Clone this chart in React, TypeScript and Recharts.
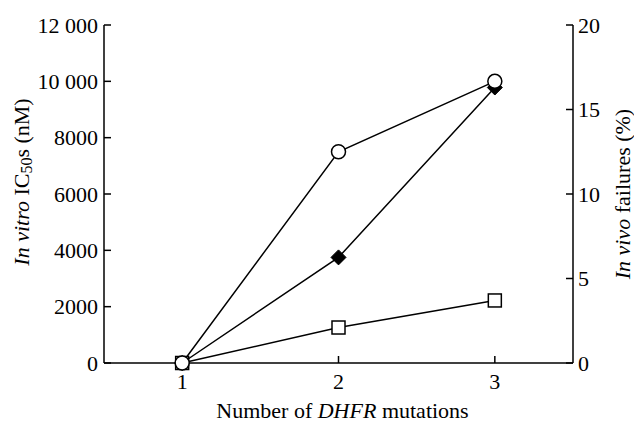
import React from "react";
import { LineChart, Line, XAxis, YAxis } from "recharts";

// number of DHFR mutations
const mutations = [1, 2, 3];
// in vitro IC50 (nM), left axis
const ic50 = [0, 7500, 10000];
// in vivo failures (%), right axis
const failuresA = [0, 6.25, 16.3];
const failuresB = [0, 2.1, 3.7];

const leftTicks = [0, 2000, 4000, 6000, 8000, 10000, 12000];
const rightTicks = [0, 5, 10, 15, 20];

const data = mutations.map((m, i) => ({
  x: m,
  ic50: ic50[i],
  failA: failuresA[i],
  failB: failuresB[i],
}));

const FONT = "'Liberation Serif', 'Times New Roman', serif";

const fmtLeft = (v: number) =>
  v >= 10000 ? `${Math.floor(v / 1000)} ${String(v % 1000).padStart(3, "0")}` : String(v);

const CircleDot = (p: any) => (
  <circle cx={p.cx} cy={p.cy} r={7} fill="#fff" stroke="#000" strokeWidth={1.5} />
);
const SquareDot = (p: any) => (
  <rect x={p.cx - 6.5} y={p.cy - 6.5} width={13} height={13} fill="#fff" stroke="#000" strokeWidth={1.5} />
);
const DiamondDot = (p: any) => (
  <path
    d={`M${p.cx},${p.cy - 7.5} L${p.cx + 7.5},${p.cy} L${p.cx},${p.cy + 7.5} L${p.cx - 7.5},${p.cy} Z`}
    fill="#000"
    stroke="#000"
    strokeWidth={1}
  />
);

const LeftTitle = (props: any) => {
  const vb = props.viewBox || { x: 0, y: 0, width: 0, height: 0 };
  const cx = vb.x + 21;
  const cy = vb.y + vb.height / 2 - 12;
  return (
    <text
      x={cx}
      y={cy}
      transform={`rotate(-90, ${cx}, ${cy})`}
      textAnchor="middle"
      dominantBaseline="central"
      fontFamily={FONT}
      fontSize={22}
      fill="#000"
    >
      <tspan fontStyle="italic">In vitro</tspan>
      <tspan> IC</tspan>
      <tspan dy={5} fontSize={16}>50</tspan>
      <tspan dy={-5}>s (nM)</tspan>
    </text>
  );
};

const RightTitle = (props: any) => {
  const vb = props.viewBox || { x: 0, y: 0, width: 0, height: 0 };
  const cx = vb.x + 49;
  const cy = vb.y + vb.height / 2;
  return (
    <text
      x={cx}
      y={cy}
      transform={`rotate(-90, ${cx}, ${cy})`}
      textAnchor="middle"
      dominantBaseline="central"
      fontFamily={FONT}
      fontSize={22}
      fill="#000"
    >
      <tspan fontStyle="italic">In vivo</tspan>
      <tspan> failures (%)</tspan>
    </text>
  );
};

const BottomTitle = (props: any) => {
  const vb = props.viewBox || { x: 0, y: 0, width: 0, height: 0 };
  const cx = vb.x + vb.width / 2 + 4;
  const cy = vb.y + 55;
  return (
    <text x={cx} y={cy} textAnchor="middle" fontFamily={FONT} fontSize={22} fill="#000">
      <tspan>Number of </tspan>
      <tspan fontStyle="italic">DHFR</tspan>
      <tspan> mutations</tspan>
    </text>
  );
};

const tickStyle = { fontFamily: FONT, fontSize: 22, fill: "#000" };
const axisLine = { stroke: "#000", strokeWidth: 1.5 };

export default function App() {
  return (
    <div style={{ position: "absolute", left: 0, top: 0, background: "#fff" }}>
      <LineChart
        width={634}
        height={425}
        data={data}
        margin={{ top: 25, right: 0, bottom: 0, left: 0 }}
      >
        <XAxis
          dataKey="x"
          type="number"
          domain={[0.5, 3.5]}
          ticks={mutations}
          height={62}
          tick={tickStyle}
          tickSize={-7}
          tickMargin={17}
          axisLine={axisLine}
          tickLine={axisLine}
          label={<BottomTitle />}
        />
        <YAxis
          yAxisId="left"
          orientation="left"
          domain={[0, 12000]}
          ticks={leftTicks}
          width={104}
          tick={tickStyle}
          tickFormatter={fmtLeft}
          tickSize={-7}
          tickMargin={13}
          axisLine={axisLine}
          tickLine={axisLine}
          interval={0}
          label={<LeftTitle />}
        />
        <YAxis
          yAxisId="right"
          orientation="right"
          domain={[0, 20]}
          ticks={rightTicks}
          width={61}
          tick={tickStyle}
          tickSize={-7}
          tickMargin={12}
          axisLine={axisLine}
          tickLine={axisLine}
          interval={0}
          label={<RightTitle />}
        />
        <Line
          yAxisId="right"
          dataKey="failB"
          stroke="#000"
          strokeWidth={1.5}
          dot={<SquareDot />}
          isAnimationActive={false}
        />
        <Line
          yAxisId="right"
          dataKey="failA"
          stroke="#000"
          strokeWidth={1.5}
          dot={<DiamondDot />}
          isAnimationActive={false}
        />
        <Line
          yAxisId="left"
          dataKey="ic50"
          stroke="#000"
          strokeWidth={1.5}
          dot={<CircleDot />}
          isAnimationActive={false}
        />
      </LineChart>
    </div>
  );
}
